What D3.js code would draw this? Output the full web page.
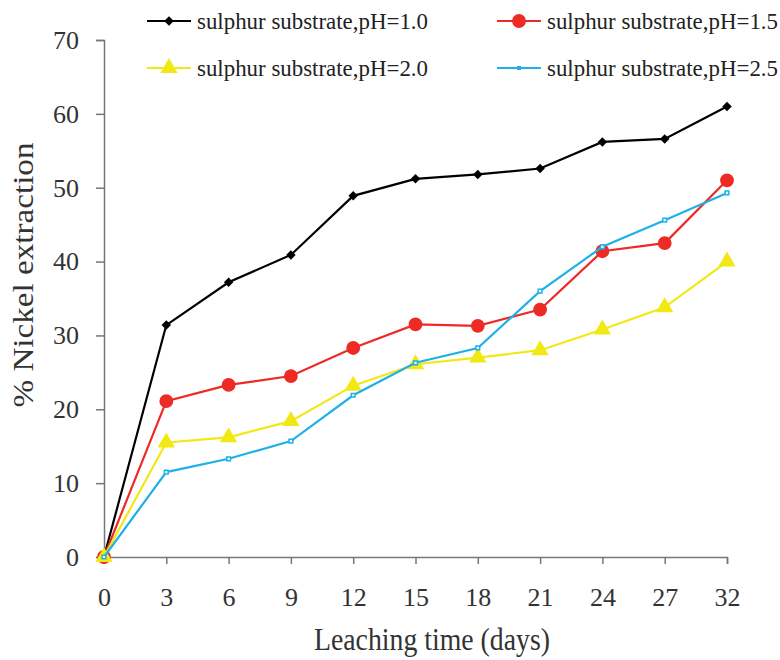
<!DOCTYPE html>
<html>
<head>
<meta charset="utf-8">
<script src="https://cdn.jsdelivr.net/npm/d3@7"></script>
<style>
body { margin: 0; background: #fff; }
svg text { font-family: "Liberation Serif", "Times New Roman", Times, serif !important; }
</style>
</head>
<body>
<div id="chart"></div>
<script>
var days = ["0", "3", "6", "9", "12", "15", "18", "21", "24", "27", "32"];
var yTicks = [0, 10, 20, 30, 40, 50, 60, 70];

var ph10 = [0, 31.4, 37.2, 40.9, 48.9, 51.2, 51.8, 52.6, 56.2, 56.6, 61.0];
var ph15 = [0, 21.1, 23.3, 24.5, 28.3, 31.5, 31.3, 33.5, 41.4, 42.5, 51.0];
var ph20 = [0, 15.5, 16.2, 18.4, 23.2, 26.1, 27.0, 28.0, 30.8, 33.8, 40.0];
var ph25 = [0, 11.5, 13.3, 15.7, 21.9, 26.3, 28.3, 36.0, 42.0, 45.6, 49.3];

var seriesNames = ["sulphur substrate,pH=1.0", "sulphur substrate,pH=1.5",
                   "sulphur substrate,pH=2.0", "sulphur substrate,pH=2.5"];
var seriesColors = ["#000000", "#ee2a24", "#f2e814", "#1fb0e8"];
var seriesSymbols = [d3.symbolSquare, d3.symbolCircle, d3.symbolTriangle, d3.symbolSquare];
var symbolSizes = [45, 150, 130, 14];
var allSeries = [ph10, ph15, ph20, ph25];

var width = 780, height = 660;
var margin = {left: 104, right: 53, top: 40, bottom: 103};

var svg = d3.select("#chart").append("svg")
    .attr("width", width)
    .attr("height", height);

var x = d3.scalePoint()
    .domain(days)
    .range([margin.left, width - margin.right]);

var y = d3.scaleLinear()
    .domain([0, 70])
    .range([height - margin.bottom, margin.top]);

// axes
var xAxisG = svg.append("g")
    .attr("transform", "translate(0," + (height - margin.bottom) + ")")
    .call(d3.axisBottom(x).tickSize(7).tickPadding(24));

var yAxisG = svg.append("g")
    .attr("transform", "translate(" + margin.left + ",0)")
    .call(d3.axisLeft(y).tickValues(yTicks).tickSize(8).tickPadding(17));

[xAxisG, yAxisG].forEach(function (g) {
    g.attr("font-family", null);
    g.select(".domain").attr("stroke", "#777").attr("stroke-width", 1.5);
    g.selectAll(".tick line").attr("stroke", "#777").attr("stroke-width", 1.5);
    g.selectAll(".tick text")
        .attr("fill", "#333")
        .style("font-size", "26px");
});
xAxisG.selectAll(".tick line").filter(function (d, i) { return i === 0; }).remove();

// axis titles
svg.append("text")
    .attr("x", 432)
    .attr("y", 650)
    .attr("text-anchor", "middle")
    .attr("fill", "#333")
    .style("font-size", "31px")
    .attr("textLength", 236)
    .attr("lengthAdjust", "spacingAndGlyphs")
    .text("Leaching time (days)");

svg.append("text")
    .attr("transform", "translate(33,275) rotate(-90)")
    .attr("text-anchor", "middle")
    .attr("fill", "#333")
    .style("font-size", "30px")
    .attr("textLength", 265)
    .attr("lengthAdjust", "spacingAndGlyphs")
    .text("% Nickel extraction");

// lines
var line = d3.line()
    .x(function (d, i) { return x(days[i]); })
    .y(function (d) { return y(d); });

function markTransform(s, px, py) {
    return "translate(" + px + "," + py + ")" + (s === 0 ? " rotate(45)" : "");
}

allSeries.forEach(function (vals, s) {
    var g = svg.append("g");
    g.append("path")
        .datum(vals)
        .attr("fill", "none")
        .attr("stroke", seriesColors[s])
        .attr("stroke-width", 2.2)
        .attr("d", line);
    g.selectAll("path.pt")
        .data(vals)
        .join("path")
        .attr("class", "pt")
        .attr("transform", function (d, i) { return markTransform(s, x(days[i]), y(d)); })
        .attr("d", d3.symbol().type(seriesSymbols[s]).size(symbolSizes[s]))
        .attr("fill", s === 3 ? "#fff" : seriesColors[s])
        .attr("stroke", s === 3 ? seriesColors[s] : "none")
        .attr("stroke-width", 1.5);
});

// legend
var legendPos = [[147, 21], [497, 21], [147, 68], [497, 68]];
seriesNames.forEach(function (name, s) {
    var lg = svg.append("g")
        .attr("transform", "translate(" + legendPos[s][0] + "," + legendPos[s][1] + ")");
    lg.append("line")
        .attr("x1", 0).attr("x2", 44)
        .attr("stroke", seriesColors[s])
        .attr("stroke-width", 2.2);
    lg.append("path")
        .attr("transform", markTransform(s, 22, 0))
        .attr("d", d3.symbol().type(seriesSymbols[s]).size(s === 3 ? 16 : symbolSizes[s]))
        .attr("fill", seriesColors[s]);
    lg.append("text")
        .attr("x", 50)
        .attr("y", 8)
        .attr("fill", "#222")
        .style("font-size", "23px")
        .attr("textLength", 231)
        .attr("lengthAdjust", "spacingAndGlyphs")
        .text(name);
});
</script>
</body>
</html>
